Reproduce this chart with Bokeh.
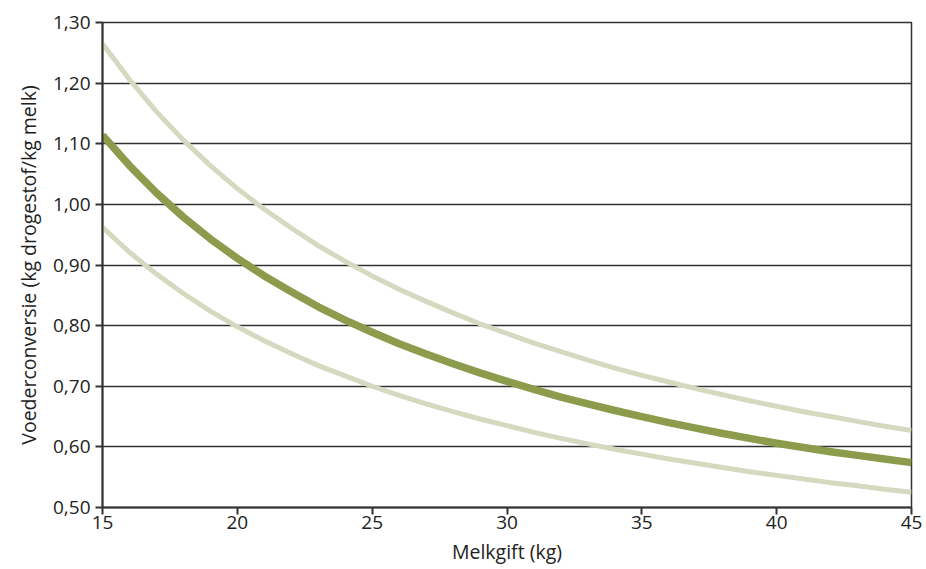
from bokeh.plotting import figure
from bokeh.models import Range1d, FixedTicker, CustomJSTickFormatter
from bokeh.embed import file_html
from bokeh.resources import INLINE

melkgift = list(range(15, 46))
gemiddeld = [1.114, 1.064, 1.019, 0.979, 0.943, 0.911, 0.882, 0.856, 0.831, 0.809,
             0.789, 0.770, 0.753, 0.737, 0.722, 0.708, 0.695, 0.682, 0.671, 0.660,
             0.650, 0.640, 0.631, 0.622, 0.614, 0.606, 0.599, 0.592, 0.586, 0.580, 0.574]
boven = [1.265, 1.206, 1.153, 1.106, 1.064, 1.026, 0.992, 0.961, 0.932, 0.906,
         0.882, 0.860, 0.840, 0.821, 0.803, 0.787, 0.771, 0.757, 0.743, 0.730,
         0.718, 0.707, 0.696, 0.686, 0.676, 0.667, 0.658, 0.650, 0.642, 0.634, 0.627]
onder = [0.962, 0.921, 0.885, 0.853, 0.824, 0.798, 0.775, 0.754, 0.734, 0.717,
         0.700, 0.685, 0.671, 0.658, 0.646, 0.635, 0.624, 0.614, 0.605, 0.596,
         0.588, 0.580, 0.573, 0.566, 0.559, 0.553, 0.547, 0.541, 0.536, 0.530, 0.525]
x_ticks = [15, 20, 25, 30, 35, 40, 45]
y_ticks = [0.5, 0.6, 0.7, 0.8, 0.9, 1.0, 1.1, 1.2, 1.3]

FONT = "Open Sans"
AXC = "#333333"

p = figure(frame_width=809, frame_height=485, output_backend="svg", toolbar_location=None,
           x_range=Range1d(15, 45), y_range=Range1d(0.5, 1.3),
           min_border_left=102, min_border_right=15, min_border_top=22, min_border_bottom=62)

p.line(melkgift, boven, line_color="#d4dabf", line_width=5, line_join="round")
p.line(melkgift, onder, line_color="#d4dabf", line_width=5, line_join="round")
p.line(melkgift, gemiddeld, line_color="#8c9b4c", line_width=7.5, line_join="round")

p.outline_line_color = AXC
p.outline_line_width = 1.5
p.xgrid.visible = False
p.ygrid.grid_line_color = AXC
p.ygrid.grid_line_width = 1.5
p.ygrid.ticker = FixedTicker(ticks=y_ticks)

p.xaxis.ticker = FixedTicker(ticks=x_ticks)
p.yaxis.ticker = FixedTicker(ticks=y_ticks)
p.yaxis.formatter = CustomJSTickFormatter(code="return tick.toFixed(2).replace('.', ',');")

for ax in (p.xaxis[0], p.yaxis[0]):
    ax.axis_line_color = AXC
    ax.axis_line_width = 2
    ax.major_tick_line_color = AXC
    ax.major_tick_line_width = 2
    ax.major_tick_out = 7
    ax.major_tick_in = 0
    ax.minor_tick_line_color = None
    ax.major_label_text_font = FONT
    ax.major_label_text_font_size = "19px"
    ax.major_label_text_color = "#222222"
    ax.axis_label_text_font = FONT
    ax.axis_label_text_font_size = "19.5px"
    ax.axis_label_text_font_style = "normal"
    ax.axis_label_text_color = "#222222"

p.xaxis.axis_label = "Melkgift (kg)"
p.yaxis.axis_label = "Voederconversie (kg drogestof/kg melk)"
p.xaxis.major_label_standoff = 1
p.yaxis.major_label_standoff = 5
p.xaxis.axis_label_standoff = 6
p.yaxis.axis_label_standoff = 8

open("out.html", "w").write(file_html(p, INLINE))
